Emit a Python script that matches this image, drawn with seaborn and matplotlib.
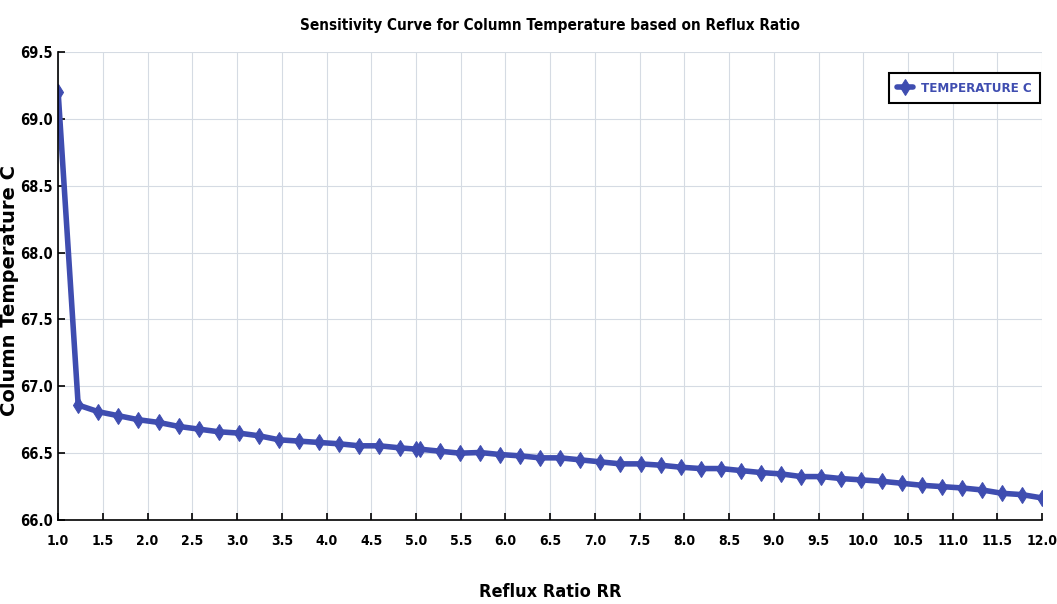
import pandas as pd
import matplotlib
matplotlib.use("Agg")
import matplotlib.pyplot as plt
import seaborn as sns

# Reflux ratio sweep and column temperature
reflux_ratio = [1.000, 1.224, 1.449, 1.673, 1.898, 2.122, 2.347, 2.571, 2.796, 3.020,
                3.245, 3.469, 3.694, 3.918, 4.143, 4.367, 4.592, 4.816, 5.000, 5.041,
                5.265, 5.490, 5.714, 5.939, 6.163, 6.388, 6.612, 6.837, 7.061, 7.286,
                7.510, 7.735, 7.959, 8.184, 8.408, 8.633, 8.857, 9.082, 9.306, 9.531,
                9.755, 9.980, 10.204, 10.429, 10.653, 10.878, 11.102, 11.327, 11.551,
                11.776, 12.000]
temperature = [69.20, 66.86, 66.81, 66.78, 66.75, 66.73, 66.70, 66.68, 66.66, 66.65,
               66.63, 66.60, 66.59, 66.58, 66.57, 66.555, 66.555, 66.54, 66.53, 66.53,
               66.515, 66.50, 66.505, 66.49, 66.48, 66.465, 66.465, 66.45, 66.435, 66.42,
               66.42, 66.41, 66.395, 66.385, 66.385, 66.37, 66.355, 66.345, 66.325, 66.325,
               66.31, 66.30, 66.29, 66.275, 66.26, 66.25, 66.24, 66.225, 66.20, 66.19,
               66.165]

x_ticks = [1.0, 1.5, 2.0, 2.5, 3.0, 3.5, 4.0, 4.5, 5.0, 5.5, 6.0, 6.5, 7.0, 7.5, 8.0,
           8.5, 9.0, 9.5, 10.0, 10.5, 11.0, 11.5, 12.0]
y_ticks = [66.0, 66.5, 67.0, 67.5, 68.0, 68.5, 69.0, 69.5]

df = pd.DataFrame({"RR": reflux_ratio, "T": temperature})

sns.set_style("whitegrid", {"grid.color": "#d5dbe3", "axes.edgecolor": "black",
                            "text.color": "black", "axes.labelcolor": "black",
                            "xtick.color": "black", "ytick.color": "black"})
plt.rcParams["font.family"] = ["DejaVu Sans"]
plt.rcParams["font.stretch"] = "condensed"

line_color = "#3f4db0"

fig = plt.figure(figsize=(10.57, 6.04), dpi=100)
ax = fig.add_axes([0.055, 0.139, 0.931, 0.775])

sns.lineplot(data=df, x="RR", y="T", ax=ax, color=line_color, linewidth=4,
             marker="d", markersize=8, markeredgecolor=line_color,
             label="TEMPERATURE C")

ax.set_xlim(1.0, 12.0)
ax.set_ylim(66.0, 69.5)
ax.set_xticks(x_ticks)
ax.set_yticks(y_ticks)
ax.set_xticklabels([f"{v:.1f}" for v in x_ticks], fontsize=10, fontweight="bold",
                   fontstretch="condensed")
ax.set_yticklabels([f"{v:.1f}" for v in y_ticks], fontsize=10.5, fontweight="bold",
                   fontstretch="condensed")
ax.tick_params(direction="in", length=5, width=1.2, color="black")
ax.tick_params(axis="x", bottom=True, pad=10)
ax.tick_params(axis="y", left=True, pad=4)

ax.spines["top"].set_visible(False)
ax.spines["right"].set_visible(False)
ax.spines["left"].set_linewidth(1.2)
ax.spines["bottom"].set_linewidth(1.2)

ax.set_title("Sensitivity Curve for Column Temperature based on Reflux Ratio",
             fontsize=11, fontweight="bold", fontstretch="condensed", pad=16)
ax.set_xlabel("Reflux Ratio RR", fontsize=13, fontweight="bold",
              fontstretch="condensed")
ax.xaxis.set_label_coords(0.5, -0.135)
ax.set_ylabel("Column Temperature C", fontsize=14, fontweight="bold",
              fontstretch="normal")
ax.yaxis.set_label_coords(-0.04, 0.49)

leg = ax.legend(loc="upper right", bbox_to_anchor=(0.998, 0.955), borderaxespad=0,
                fancybox=False, framealpha=1, edgecolor="black",
                prop={"weight": "bold", "size": 9.5, "stretch": "condensed"},
                handlelength=1.2, handletextpad=0.6, borderpad=0.65)
leg.get_frame().set_linewidth(1.5)
for t in leg.get_texts():
    t.set_color(line_color)

fig.savefig("out.png", dpi=100)
